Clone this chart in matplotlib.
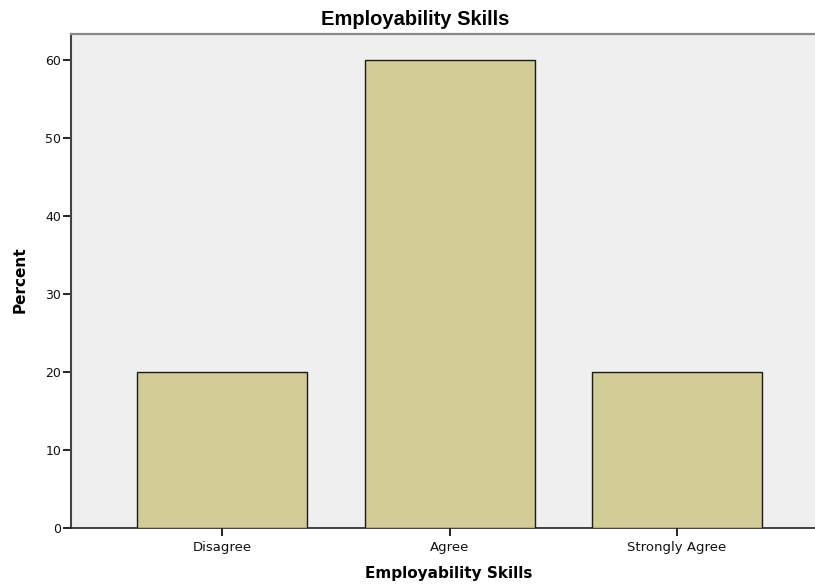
import matplotlib
matplotlib.use("Agg")
import matplotlib.pyplot as plt

categories = ["Disagree", "Agree", "Strongly Agree"]
percent = [20, 60, 20]
yticks = [0, 10, 20, 30, 40, 50, 60]

fig = plt.figure(figsize=(8.15, 5.84), dpi=100)
ax = fig.add_axes([71/815, 56/584, 1 - 71/815, (528-34)/584])
ax.set_facecolor("#efefef")
x = list(range(len(categories)))
ax.bar(x, percent, width=0.747, color="#d2cd96", edgecolor="#1a1a1a", linewidth=1.0, zorder=3)
ax.set_xlim(-0.664, 2.606)
ax.set_ylim(0, 63.3)
ax.set_xticks(x)
ax.set_xticklabels(categories, fontsize=9.5, family="DejaVu Sans", color="#111111")
ax.set_yticks(yticks)
ax.set_yticklabels([str(v) for v in yticks], fontsize=9, family="DejaVu Sans", color="#111111")
ax.tick_params(axis="y", direction="out", length=6, width=1.2, pad=1)
ax.tick_params(axis="x", direction="out", length=6, width=1.2, pad=3)
ax.spines["right"].set_visible(False)
ax.spines["top"].set_color("#888888")
ax.spines["top"].set_linewidth(1.6)
ax.spines["left"].set_color("#444444")
ax.spines["left"].set_linewidth(1.5)
ax.spines["bottom"].set_color("#222222")
ax.spines["bottom"].set_linewidth(1.2)
fig.text(415/815, 1 - 25/584, "Employability Skills", ha="center", va="baseline",
         fontsize=14.5, fontweight="bold", family="Liberation Sans")
fig.text(449/815, 1 - 578/584, "Employability Skills", ha="center", va="baseline",
         fontsize=11, fontweight="bold", family="DejaVu Sans")
fig.text(20/815, 1 - 280/584, "Percent", ha="center", va="center", rotation=90,
         fontsize=11, fontweight="bold", family="DejaVu Sans")
fig.savefig("out.png", dpi=100)
